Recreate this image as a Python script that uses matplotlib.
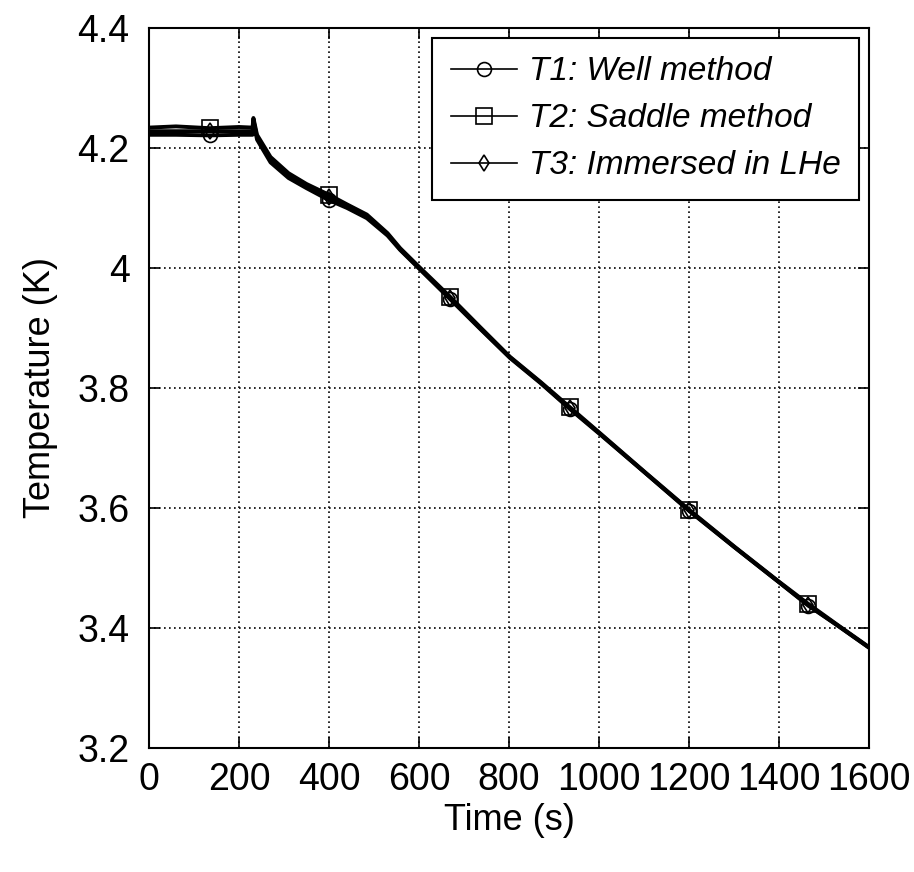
import numpy as np
import matplotlib
matplotlib.use("Agg")
import matplotlib.pyplot as plt

# time axis (s) shared by the three sensors
time_s = [0, 60, 135, 200, 230, 232, 240, 270, 310, 350, 400, 440, 484, 530, 558,
          600, 669, 735, 802, 870, 935, 1000, 1100, 1200, 1300, 1400, 1465, 1530, 1600]

# T1: well method
t1_well = [4.222, 4.222, 4.221, 4.222, 4.222, 4.245, 4.214, 4.176, 4.150, 4.133, 4.113, 4.100, 4.083, 4.054, 4.030,
           3.999, 3.948, 3.899, 3.850, 3.808, 3.765, 3.724, 3.660, 3.595, 3.535, 3.476, 3.437, 3.404, 3.367]
# T2: saddle method
t2_saddle = [4.234, 4.236, 4.233, 4.235, 4.234, 4.250, 4.222, 4.185, 4.158, 4.140, 4.122, 4.106, 4.089, 4.058, 4.033,
             4.002, 3.952, 3.902, 3.852, 3.810, 3.768, 3.726, 3.661, 3.597, 3.536, 3.477, 3.440, 3.405, 3.368]
# T3: immersed in LHe
t3_lhe = [4.228, 4.228, 4.228, 4.228, 4.228, 4.247, 4.218, 4.180, 4.154, 4.137, 4.118, 4.104, 4.086, 4.056, 4.031,
          4.000, 3.950, 3.900, 3.851, 3.809, 3.766, 3.725, 3.660, 3.596, 3.535, 3.476, 3.438, 3.404, 3.367]

marker_idx = [2, 10, 16, 20, 23, 26]

x_ticks = [0, 200, 400, 600, 800, 1000, 1200, 1400, 1600]
y_ticks = [3.2, 3.4, 3.6, 3.8, 4.0, 4.2, 4.4]
y_tick_labels = ["3.2", "3.4", "3.6", "3.8", "4", "4.2", "4.4"]

plt.rcParams['font.family'] = ['Liberation Sans', 'DejaVu Sans']

fig = plt.figure(figsize=(9.14, 8.72), dpi=100)
ax = fig.add_axes([0.163, 0.1422, 0.788, 0.8257])

ax.plot(time_s, t1_well, color='black', lw=2.8, marker='o', ms=10, mfc='none', mew=1.2,
        markevery=marker_idx, label='T1: Well method')
ax.plot(time_s, t2_saddle, color='black', lw=2.8, marker='s', ms=11, mfc='none', mew=1.2,
        markevery=marker_idx, label='T2: Saddle method')
ax.plot(time_s, t3_lhe, color='black', lw=2.8, marker='d', ms=8, mfc='none', mew=1.2,
        markevery=marker_idx, label='T3: Immersed in LHe')

ax.set_xlim(0, 1600)
ax.set_ylim(3.2, 4.4)
ax.set_xticks(x_ticks)
ax.set_yticks(y_ticks)
ax.set_yticklabels(y_tick_labels)
ax.tick_params(direction='in', length=8, width=1.2, top=True, right=True, labelsize=27)
ax.tick_params(axis='x', pad=10)
ax.tick_params(axis='y', pad=14)
ax.grid(True, color='black', linestyle=(0, (1, 2)), lw=1.2)
for s in ax.spines.values():
    s.set_linewidth(1.5)

ax.set_xlabel('Time (s)', fontsize=26, labelpad=4)
ax.set_ylabel('Temperature (K)', fontsize=26, labelpad=14)

leg = ax.legend(loc='upper right', fontsize=24, frameon=True, fancybox=False, framealpha=1,
                edgecolor='black', handlelength=2.0, handletextpad=0.35, labelspacing=0.48,
                borderpad=0.55, borderaxespad=0.3)
leg.get_frame().set_linewidth(1.5)
for txt in leg.get_texts():
    txt.set_fontstyle('italic')
for h in leg.legend_handles:
    h.set_linewidth(1.2)

fig.savefig('out.png', dpi=100)
